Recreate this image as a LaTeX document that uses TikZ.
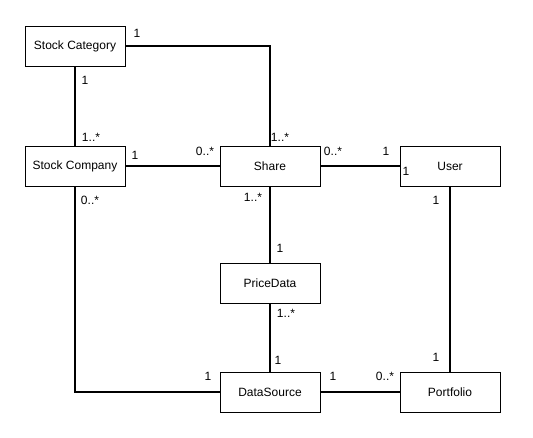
\documentclass[tikz,border=0pt]{standalone}
\usepackage{fontspec}
\setmainfont{Liberation Sans}
\usetikzlibrary{positioning}
\tikzset{
  cls/.style={draw, line width=1pt, fill=white, minimum width=100pt, minimum height=40pt, inner sep=0pt, font=\fontsize{12}{14}\selectfont},
  assoc/.style={line width=2pt},
  mult/.style={inner sep=0pt, font=\fontsize{12}{14}\selectfont}
}

\begin{document}
\begin{tikzpicture}[x=1pt, y=-1pt]
    \useasboundingbox (0, 0) rectangle (533, 437);

    \node[cls] (cat) at (75, 46) {Stock Category};
    \node[cls] (comp) at (75, 166) {Stock Company};
    \node[cls] (share) at (270, 166) {Share};
    \node[cls] (user) at (450, 166) {User};
    \node[cls] (price) at (270, 283) {PriceData};
    \node[cls] (src) at (270, 392) {DataSource};
    \node[cls] (port) at (450, 392) {Portfolio};

    \draw[assoc] (cat.east) -| (share.north);
    \draw[assoc] (cat.south) -- (comp.north);
    \draw[assoc] (comp.east) -- (share.west);
    \draw[assoc] (share.east) -- (user.west);
    \draw[assoc] (share.south) -- (price.north);
    \draw[assoc] (price.south) -- (src.north);
    \draw[assoc] (comp.south) |- (src.west);
    \draw[assoc] (src.east) -- (port.west);
    \draw[assoc] (user.south) -- (port.north);

    % multiplicities
    \node[mult] (m1) at (137, 33) {1};
    \node[mult] (m2) at (85, 80) {1};
    \node[mult] (m3) at (91, 137) {1..*};
    \node[mult] (m4) at (280, 137) {1..*};
    \node[mult] (m5) at (135, 155) {1};
    \node[mult] (m6) at (205, 151) {0..*};
    \node[mult] (m7) at (90, 200) {0..*};
    \node[mult] (m8) at (253, 197) {1..*};
    \node[mult] (m9) at (333, 151) {0..*};
    \node[mult] (m10) at (386, 151) {1};
    \node[mult] (m11) at (406, 171) {1};
    \node[mult] (m12) at (436, 200) {1};
    \node[mult] (m13) at (280, 248) {1};
    \node[mult] (m14) at (286, 313) {1..*};
    \node[mult] (m15) at (278, 360) {1};
    \node[mult] (m16) at (208, 376) {1};
    \node[mult] (m17) at (333, 376) {1};
    \node[mult] (m18) at (385, 376) {0..*};
    \node[mult] (m19) at (436, 357) {1};
\end{tikzpicture}
\end{document}
